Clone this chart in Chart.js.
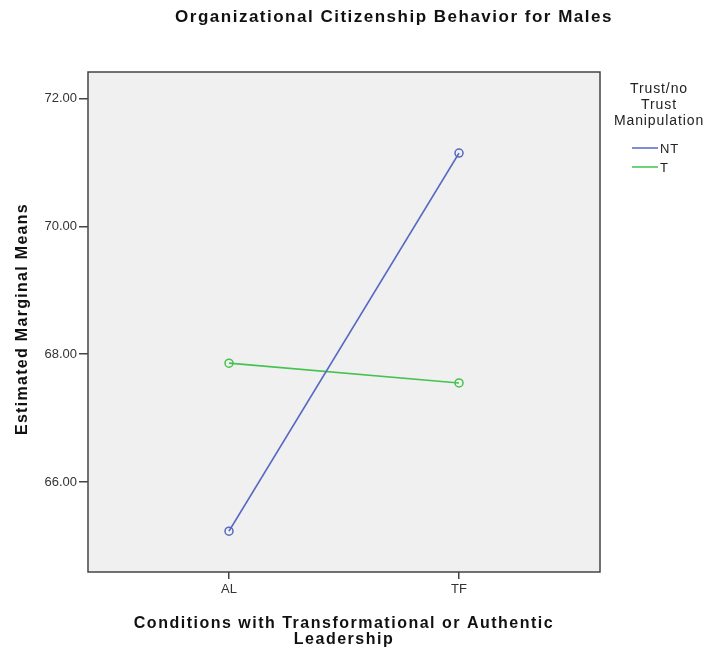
<!DOCTYPE html>
<html>
<head>
<meta charset="utf-8">
<script src="https://cdn.jsdelivr.net/npm/chart.js@4"></script>
<style>
  html, body { margin: 0; padding: 0; background: #ffffff; }
  #wrap { width: 707px; height: 650px; }
</style>
</head>
<body>
<div id="wrap"><canvas id="c" width="707" height="650"></canvas></div>
<script>
const chartTitle = 'Organizational Citizenship Behavior for Males';
const categories = ['AL', 'TF'];
const seriesNames = ['NT', 'T'];
const ntValues = [65.23, 71.15];
const tValues = [67.86, 67.55];
const yTicks = [66, 68, 70, 72];
const legendTitle = ['Trust/no', 'Trust', 'Manipulation'];
const xTitle = ['Conditions with Transformational or Authentic', 'Leadership'];
const yTitle = 'Estimated Marginal Means';

const FONT = '"Liberation Sans", Arial, sans-serif';
const colors = ['#5668c2', '#45c24f'];

function toPoints(vals) { return vals.map((v, i) => ({ x: i, y: v })); }

const bgFrame = {
  id: 'bgFrame',
  beforeDraw(chart) {
    const { ctx, chartArea: a } = chart;
    ctx.save();
    ctx.fillStyle = '#f0f0f0';
    ctx.fillRect(a.left, a.top, a.right - a.left, a.bottom - a.top);
    ctx.restore();
  },
  afterDraw(chart) {
    const { ctx, chartArea: a } = chart;
    ctx.save();
    ctx.strokeStyle = '#444444';
    ctx.lineWidth = 1.5;
    ctx.strokeRect(a.left, a.top, a.right - a.left, a.bottom - a.top);

    ctx.fillStyle = '#111111';
    ctx.textAlign = 'center';
    ctx.textBaseline = 'alphabetic';
    // main title
    ctx.letterSpacing = '1.5px';
    ctx.font = 'bold 17px ' + FONT;
    ctx.fillText(chartTitle, 394, 22);
    // x axis title
    ctx.font = 'bold 16px ' + FONT;
    const xc = (a.left + a.right) / 2;
    xTitle.forEach((t, i) => ctx.fillText(t, xc, 628 + i * 16));
    // y axis title
    ctx.letterSpacing = '1.3px';
    ctx.save();
    ctx.translate(27, (a.top + a.bottom) / 2 - 3);
    ctx.rotate(-Math.PI / 2);
    ctx.fillText(yTitle, 0, 0);
    ctx.restore();

    // legend
    ctx.letterSpacing = '0.9px';
    ctx.font = '14px ' + FONT;
    ctx.fillStyle = '#222222';
    ctx.textBaseline = 'middle';
    legendTitle.forEach((t, i) => ctx.fillText(t, 659, 89 + i * 16));
    ctx.font = '13px ' + FONT;
    ctx.textAlign = 'left';
    chart.data.datasets.forEach((ds, i) => {
      const y = 148 + i * 19;
      ctx.strokeStyle = ds.borderColor;
      ctx.lineWidth = 1.5;
      ctx.beginPath();
      ctx.moveTo(632, y);
      ctx.lineTo(658, y);
      ctx.stroke();
      ctx.fillStyle = '#222222';
      ctx.fillText(ds.label, 660, y + 1);
    });
    ctx.restore();
  }
};

new Chart(document.getElementById('c'), {
  type: 'line',
  data: {
    datasets: [
      { label: seriesNames[0], data: toPoints(ntValues), borderColor: colors[0], backgroundColor: 'rgba(0,0,0,0)', borderWidth: 1.7, pointRadius: 4, pointBorderWidth: 1.5, pointBackgroundColor: 'rgba(0,0,0,0)', pointBorderColor: colors[0], tension: 0 },
      { label: seriesNames[1], data: toPoints(tValues), borderColor: colors[1], backgroundColor: 'rgba(0,0,0,0)', borderWidth: 1.7, pointRadius: 4, pointBorderWidth: 1.5, pointBackgroundColor: 'rgba(0,0,0,0)', pointBorderColor: colors[1], tension: 0 }
    ]
  },
  options: {
    responsive: false,
    animation: false,
    layout: { padding: { top: 72, right: 107, left: 0, bottom: 0 } },
    plugins: { legend: { display: false }, title: { display: false }, tooltip: { enabled: false } },
    scales: {
      x: {
        type: 'linear',
        min: -0.613,
        max: 1.613,
        afterBuildTicks(scale) { scale.ticks = categories.map((c, i) => ({ value: i })); },
        afterFit(scale) { scale.height = 78; },
        ticks: { callback: (v) => categories[v], color: '#333333', font: { family: FONT, size: 13 }, padding: 3, maxRotation: 0 },
        grid: { drawOnChartArea: false, drawTicks: true, tickLength: 7, color: '#444444', lineWidth: 1.5 },
        border: { display: false },
        title: { display: false, text: xTitle }
      },
      y: {
        type: 'linear',
        min: 64.59,
        max: 72.42,
        afterBuildTicks(scale) { scale.ticks = yTicks.map(v => ({ value: v })); },
        afterFit(scale) { scale.width = 88; },
        ticks: { callback: (v) => Number(v).toFixed(2), color: '#333333', font: { family: FONT, size: 13 }, padding: 2 },
        grid: { drawOnChartArea: false, drawTicks: true, tickLength: 9, color: '#444444', lineWidth: 1.5 },
        border: { display: false },
        title: { display: false, text: yTitle }
      }
    }
  },
  plugins: [bgFrame]
});
</script>
</body>
</html>
